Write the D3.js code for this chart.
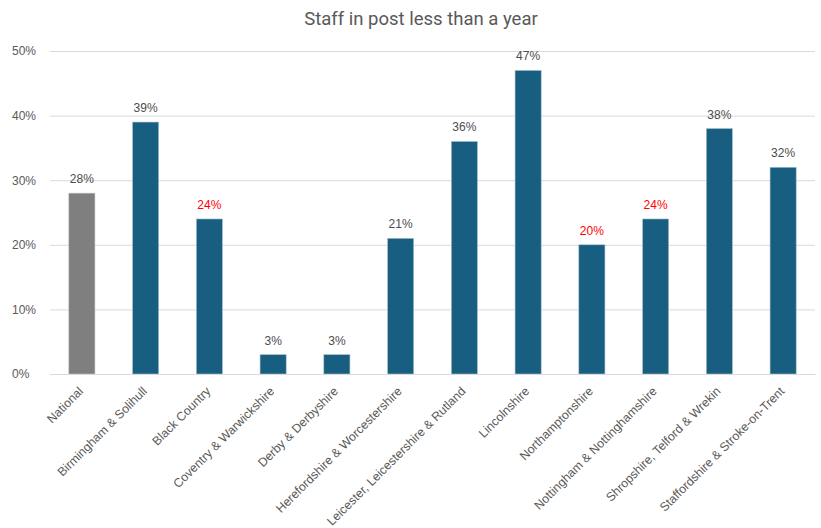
<!DOCTYPE html>
<html>
<head>
<meta charset="utf-8">
<script src="https://cdn.jsdelivr.net/npm/d3@7"></script>
<style>
  html, body { margin: 0; padding: 0; background: #fff; }
  svg { display: block; font-family: "Liberation Sans", Arial, sans-serif; }
</style>
</head>
<body>
<svg id="chart" width="821" height="528"></svg>
<script>
// Share of staff who have been in post for less than a year, by area
const categories = [
  "National",
  "Birmingham & Solihull",
  "Black Country",
  "Coventry & Warwickshire",
  "Derby & Derbyshire",
  "Herefordshire & Worcestershire",
  "Leicester, Leicestershire & Rutland",
  "Lincolnshire",
  "Northamptonshire",
  "Nottingham & Nottinghamshire",
  "Shropshire, Telford & Wrekin",
  "Staffordshire & Stroke-on-Trent"
];
const values = [28, 39, 24, 3, 3, 21, 36, 47, 20, 24, 38, 32];
// Areas whose value label is highlighted
const highlighted = ["Black Country", "Northamptonshire", "Nottingham & Nottinghamshire"];
const yTicks = [0, 10, 20, 30, 40, 50];

const svg = d3.select("#chart");
const margin = { left: 50, right: 6, top: 51, bottom: 154 };
const W = 821, H = 528;

const x = d3.scaleBand()
  .domain(categories)
  .range([margin.left, W - margin.right])
  .paddingInner(0.59)
  .paddingOuter(0.295);

const y = d3.scaleLinear()
  .domain([0, 50])
  .range([H - margin.bottom, margin.top]);

// Title
svg.append("text")
  .attr("x", 421)
  .attr("y", 25)
  .attr("text-anchor", "middle")
  .attr("fill", "#595959")
  .style("font-family", "Roboto, sans-serif")
  .style("font-size", "18.5px")
  .text("Staff in post less than a year");

// Horizontal gridlines
const yAxis = d3.axisLeft(y)
  .tickValues(yTicks)
  .tickSize(-(W - margin.right - margin.left))
  .tickPadding(10)
  .tickFormat(d => d + "%");

const gy = svg.append("g")
  .attr("transform", `translate(${margin.left},0)`)
  .call(yAxis);
gy.select(".domain").remove();
gy.selectAll(".tick line").attr("stroke", "#d9d9d9").attr("stroke-width", 1);
gy.selectAll(".tick text")
  .attr("fill", "#595959")
  .attr("text-anchor", "start")
  .attr("x", -38)
  .style("font-size", "12px");

// Bars
svg.append("g")
  .selectAll("rect")
  .data(categories)
  .join("rect")
  .attr("x", d => x(d))
  .attr("width", x.bandwidth())
  .attr("y", (d, i) => y(values[i]))
  .attr("height", (d, i) => y(0) - y(values[i]))
  .attr("fill", (d, i) => i === 0 ? "#7f7f7f" : "#175e80")
  .attr("stroke", (d, i) => i === 0 ? "#c8c8c8" : "#a9c3d1")
  .attr("stroke-width", 0.6);

// Baseline axis
const xAxis = d3.axisBottom(x).tickSize(0).tickPadding(0);
const gx = svg.append("g")
  .attr("transform", `translate(0,${y(0)})`)
  .call(xAxis);
gx.select(".domain").attr("stroke", "#d9d9d9").attr("stroke-width", 1.2);
gx.selectAll(".tick text")
  .attr("fill", "#595959")
  .style("font-size", "12.3px")
  .attr("text-anchor", "end")
  .attr("dy", 0)
  .attr("transform", "translate(2,18) rotate(-45)");

// Value labels
svg.append("g")
  .selectAll("text")
  .data(categories)
  .join("text")
  .attr("x", d => x(d) + x.bandwidth() / 2)
  .attr("y", (d, i) => y(values[i]) - 10)
  .attr("text-anchor", "middle")
  .attr("fill", d => highlighted.includes(d) ? "#ff0000" : "#4d4d4d")
  .style("font-size", "12px")
  .text((d, i) => values[i] + "%");
</script>
</body>
</html>
